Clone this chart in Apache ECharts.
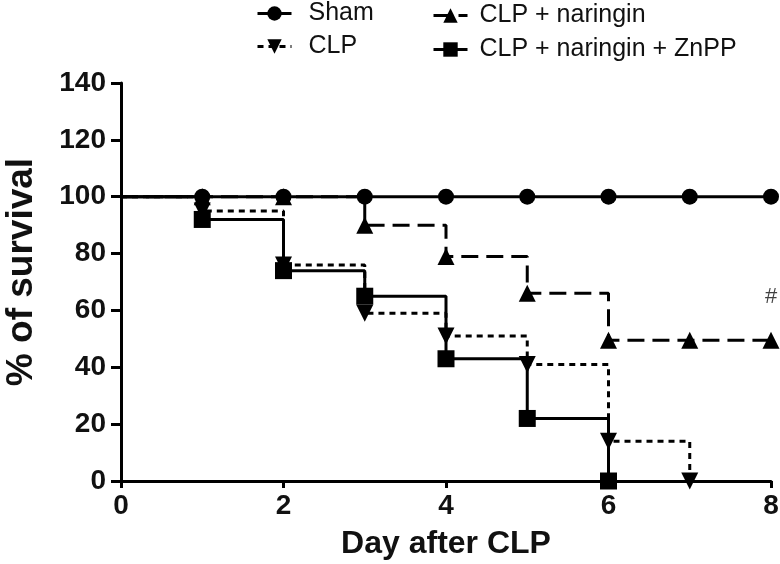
<!DOCTYPE html>
<html>
<head>
<meta charset="utf-8">
<script src="https://cdn.jsdelivr.net/npm/echarts@6/dist/echarts.min.js"></script>
<style>
html,body{margin:0;padding:0;background:#fff;}
#chart{width:780px;height:564px;}
</style>
</head>
<body>
<div id="chart"></div>
<script>
// ---- data ----
var shamDays = [0, 1, 2, 3, 4, 5, 6, 7, 8];
var shamVals = [100, 100, 100, 100, 100, 100, 100, 100, 100];
var clpDays = [0, 1, 2, 3, 4, 5, 6, 7];
var clpVals = [100, 95, 76, 59, 51, 41, 14, 0];
var narDays = [0, 1, 2, 3, 4, 5, 6, 7, 8];
var narVals = [100, 100, 100, 90, 79, 66, 49.5, 49.5, 49.5];
var znDays = [0, 1, 2, 3, 4, 5, 6];
var znVals = [100, 92, 74, 65, 43, 22, 0];
var xTicks = [0, 2, 4, 6, 8];
var yTicks = [0, 20, 40, 60, 80, 100, 120, 140];
var seriesNames = ['Sham', 'CLP', 'CLP + naringin', 'CLP + naringin + ZnPP'];
var hashDay = 8;
var hashValue = 64.7;
var hashText = '#';

function pts(days, vals) {
  return days.map(function (d, i) {
    var item = { value: [d, vals[i]] };
    if (d === 0) item.symbol = 'none';
    return item;
  });
}

var chart = echarts.init(document.getElementById('chart'), null, { renderer: 'canvas' });
var F = '"Liberation Sans", Arial, sans-serif';

function mk(name, days, vals, symbol, size, lineType, z) {
  return {
    name: name,
    type: 'line',
    step: 'end',
    data: pts(days, vals),
    symbol: symbol,
    symbolSize: size,
    showSymbol: true,
    clip: false,
    z: z,
    itemStyle: { color: '#000', borderWidth: 0 },
    lineStyle: { color: '#000', width: 3, type: lineType },
    animation: false,
    emphasis: { disabled: true }
  };
}

var option = {
  backgroundColor: '#fff',
  animation: false,
  grid: { left: 121, right: 9, top: 83, bottom: 83, containLabel: false, outerBoundsMode: 'none' },
  legend: [
    {
      data: [seriesNames[0], seriesNames[1]],
      orient: 'vertical', left: 251, top: -4,
      itemWidth: 34, itemHeight: 18, itemGap: 8,
      lineStyle: { width: 3 },
      textStyle: { fontFamily: F, fontSize: 25, lineHeight: 25, color: '#111', padding: [0, 0, 0, 12] },
      selectedMode: false
    },
    {
      data: [seriesNames[2], seriesNames[3]],
      orient: 'vertical', left: 427, top: -2,
      itemWidth: 34, itemHeight: 18, itemGap: 9,
      lineStyle: { width: 3 },
      textStyle: { fontFamily: F, fontSize: 25, lineHeight: 25, color: '#111', padding: [0, 0, 0, 7] },
      selectedMode: false
    }
  ],
  xAxis: {
    type: 'value', min: 0, max: 8, interval: 2,
    name: 'Day after CLP', nameLocation: 'middle', nameGap: 47,
    nameTextStyle: { fontFamily: F, fontSize: 32, fontWeight: 'bold', color: '#111' },
    axisLine: { show: true, onZero: false, lineStyle: { color: '#000', width: 3 } },
    axisTick: { show: true, length: 7, lineStyle: { color: '#000', width: 3 } },
    axisLabel: {
      fontFamily: F, fontSize: 28, fontWeight: 'bold', color: '#111', margin: 11,
      customValues: xTicks
    },
    splitLine: { show: false }
  },
  yAxis: {
    type: 'value', min: 0, max: 140, interval: 20,
    name: '% of survival', nameLocation: 'middle', nameGap: 81, nameRotate: 90,
    nameTextStyle: { fontFamily: F, fontSize: 37, fontWeight: 'bold', color: '#111', padding: [0, 0, 0, 20] },
    axisLine: { show: true, onZero: false, lineStyle: { color: '#000', width: 3 } },
    axisTick: { show: true, length: 10, lineStyle: { color: '#000', width: 3 } },
    axisLabel: {
      fontFamily: F, fontSize: 28, fontWeight: 'bold', color: '#111', margin: 15,
      customValues: yTicks
    },
    splitLine: { show: false }
  },
  series: [
    mk(seriesNames[0], shamDays, shamVals, 'circle', 16, 'solid', 6),
    mk(seriesNames[2], narDays, narVals, 'triangle', 17, [17, 8], 5),
    mk(seriesNames[1], clpDays, clpVals, 'path://M0,0 L10,0 L5,10 Z', 17, [6, 5], 3),
    mk(seriesNames[3], znDays, znVals, 'rect', 17, 'solid', 4),
    {
      name: 'hash',
      type: 'scatter',
      data: [[hashDay, hashValue]],
      symbol: 'circle',
      symbolSize: 2,
      itemStyle: { color: 'rgba(0,0,0,0)' },
      clip: false,
      z: 7,
      label: { show: true, position: 'inside', formatter: hashText, fontFamily: F, fontSize: 22, color: '#111' },
      emphasis: { disabled: true },
      animation: false
    }
  ]
};
chart.setOption(option);
</script>
</body>
</html>
